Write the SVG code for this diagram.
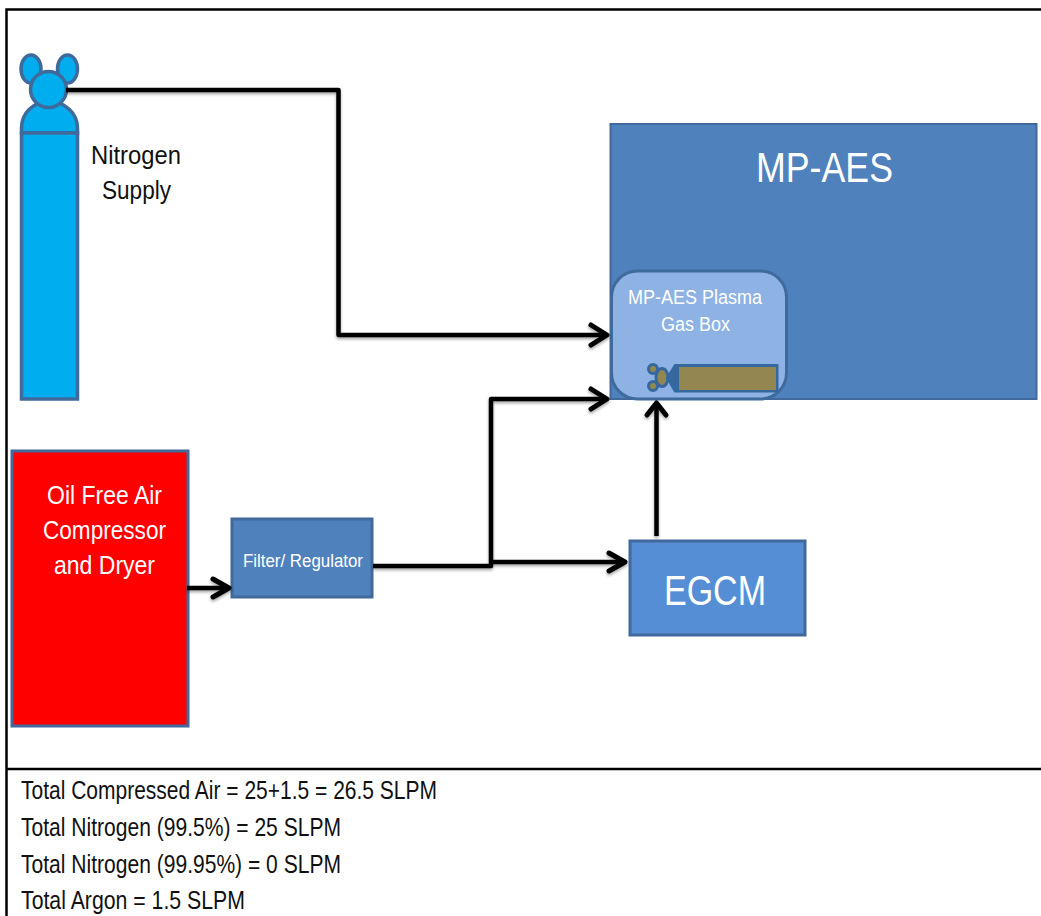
<svg xmlns="http://www.w3.org/2000/svg" width="1041" height="916" viewBox="0 0 1041 916">
<style>
text{font-family:"Liberation Sans",Arial,sans-serif}
.w{fill:#fff}
.k{fill:#111;font-size:25px}
.note{fill:#111;font-size:25px}
.conn{fill:none;stroke:#000;stroke-width:4.500;stroke-linejoin:round}
.head{fill:none;stroke:#000;stroke-width:5;stroke-linecap:round;stroke-linejoin:round}
.cyl{fill:#00adef;stroke:#3f6a9c;stroke-width:3.500}
.box{stroke:#41699b;stroke-width:3}
.gold{fill:#948650;stroke:#35689f;stroke-width:3}
</style>
<defs>
<filter id="soft" x="-5%" y="-5%" width="110%" height="110%">
<feDropShadow dx="0" dy="2" stdDeviation="1.500" flood-color="#000" flood-opacity="0.350"/>
</filter>
</defs>
<rect width="1041" height="916" fill="#fff"/>
<g id="frame">
<path d="M1041 9.500H6.500V916" fill="none" stroke="#000" stroke-width="2.500"/>
<path d="M6 769H1041" stroke="#000" stroke-width="2.500"/>
</g>
<g id="nitrogen-supply">
<ellipse class="cyl" cx="31" cy="69" rx="10" ry="14"/>
<ellipse class="cyl" cx="67.500" cy="69" rx="10" ry="14"/>
<path class="cyl" d="M21.500 133V128C21.500 113 33 102 49 101C65 102 77.500 113 77.500 128V133Z"/>
<rect class="cyl" x="21.500" y="133" width="56" height="266"/>
<circle class="cyl" cx="48.500" cy="89.500" r="18"/>
<text class="k" x="91" y="164" textLength="90" lengthAdjust="spacingAndGlyphs">Nitrogen</text>
<text class="k" x="102" y="199" textLength="69" lengthAdjust="spacingAndGlyphs">Supply</text>
</g>
<g id="mp-aes">
<rect x="610.500" y="124" width="426" height="275" fill="#4f81bd" stroke="#41699b" stroke-width="2"/>
<text class="w" x="756" y="182" font-size="42" textLength="137" lengthAdjust="spacingAndGlyphs">MP-AES</text>
</g>
<g id="gas-box">
<rect x="611.500" y="271" width="175" height="128" rx="26" fill="#8db2e3" stroke="#3f6a9c" stroke-width="3"/>
<text class="w" x="628" y="304" font-size="20.500" textLength="134" lengthAdjust="spacingAndGlyphs">MP-AES Plasma</text>
<text class="w" x="661" y="331" font-size="20.500" textLength="69" lengthAdjust="spacingAndGlyphs">Gas Box</text>
<circle class="gold" cx="653" cy="369" r="4.500"/>
<circle class="gold" cx="653" cy="386" r="4.500"/>
<ellipse class="gold" cx="662" cy="377.500" rx="6" ry="9"/>
<path d="M667 378L675 365H777.500V391.500H675Z" fill="#35689f" stroke="#35689f" stroke-width="2" stroke-linejoin="round"/>
<rect x="679" y="367" width="97" height="23" fill="#948650"/>
</g>
<g id="oil-free-air-compressor">
<rect x="12" y="451" width="176" height="275" fill="#f00" stroke="#41699b" stroke-width="3"/>
<text class="w" x="47" y="504" font-size="25" textLength="115" lengthAdjust="spacingAndGlyphs">Oil Free Air</text>
<text class="w" x="43" y="539" font-size="25" textLength="123" lengthAdjust="spacingAndGlyphs">Compressor</text>
<text class="w" x="54" y="574" font-size="25" textLength="101" lengthAdjust="spacingAndGlyphs">and Dryer</text>
</g>
<g id="filter-regulator">
<rect class="box" x="232" y="519" width="140" height="78" fill="#4f81bd"/>
<text class="w" x="243" y="567" font-size="18" textLength="120" lengthAdjust="spacingAndGlyphs">Filter/ Regulator</text>
</g>
<g id="egcm">
<rect class="box" x="630" y="541" width="175" height="94" fill="#558ed5"/>
<text class="w" x="664" y="605" font-size="42" textLength="102" lengthAdjust="spacingAndGlyphs">EGCM</text>
</g>
<g id="connectors" filter="url(#soft)">
<path class="conn" d="M66 90H338.500V335H604"/>
<path class="head" d="M591 325L607 335L591 345"/>
<path class="conn" d="M373 566H491V399H604"/>
<path class="head" d="M591 389L607 399L591 409"/>
<path class="conn" d="M491 562H622"/>
<path class="head" d="M609 553L625 562L609 571"/>
<path class="conn" d="M187 588H226"/>
<path class="head" d="M213 579L229 588L213 597"/>
<path class="conn" d="M656.500 536V406"/>
<path class="head" d="M647 415L656.500 403L666 415"/>
</g>
<g id="notes">
<text class="note" x="21" y="799" textLength="416" lengthAdjust="spacingAndGlyphs">Total Compressed Air = 25+1.5 = 26.5 SLPM</text>
<text class="note" x="21" y="836" textLength="320" lengthAdjust="spacingAndGlyphs">Total Nitrogen (99.5%) = 25 SLPM</text>
<text class="note" x="21" y="873" textLength="320" lengthAdjust="spacingAndGlyphs">Total Nitrogen (99.95%) = 0 SLPM</text>
<text class="note" x="21" y="909" textLength="224" lengthAdjust="spacingAndGlyphs">Total Argon = 1.5 SLPM</text>
</g>
</svg>
